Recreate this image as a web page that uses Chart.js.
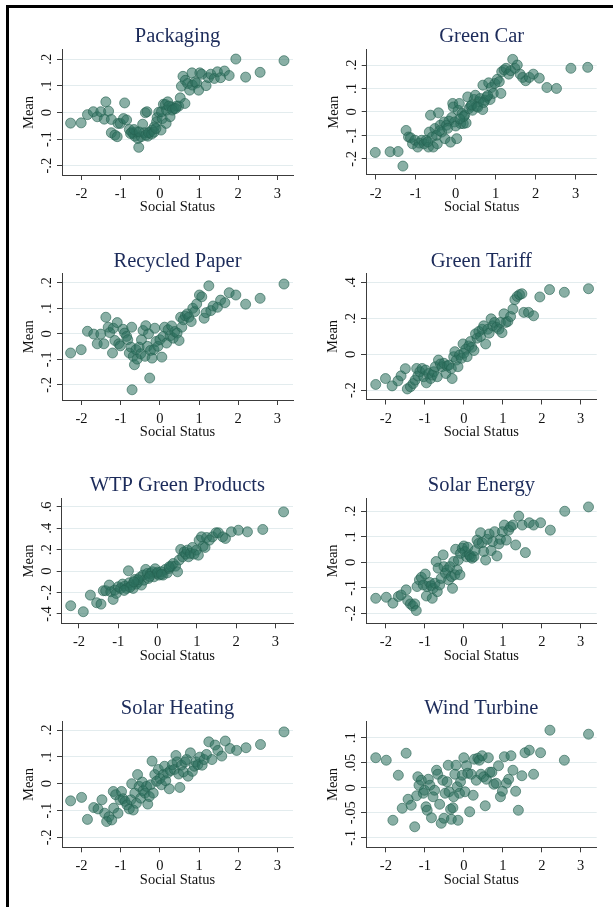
<!DOCTYPE html>
<html>
<head>
<meta charset="utf-8">
<title>Mean by Social Status</title>
<script src="https://cdn.jsdelivr.net/npm/chart.js@4.4.1/dist/chart.umd.min.js"></script>
<style>
  html, body { margin: 0; padding: 0; background: #fff; }
  body { width: 613px; height: 907px; position: relative; overflow: hidden; }
  .frame {
    position: absolute; left: 6px; top: 5px; width: 700px; height: 1000px;
    border-left: 3px solid #000; border-top: 3px solid #000;
  }
  canvas { position: absolute; }
</style>
</head>
<body>
<div class="frame"></div>
<script>
// values: [social status, mean]
const packaging = [[-2.28,-0.040],[-2.01,-0.039],[-1.85,-0.008],[-1.70,0.003],[-1.60,-0.016],[-1.51,0.003],[-1.38,0.040],[-1.42,-0.025],[-1.31,0.005],[-1.24,-0.026],[-1.07,-0.041],[-1.01,-0.041],[-0.93,-0.023],[-0.90,0.036],[-0.85,-0.028],[-1.24,-0.076],[-1.15,-0.085],[-1.09,-0.091],[-0.78,-0.064],[-0.72,-0.074],[-0.68,-0.079],[-0.64,-0.089],[-0.60,-0.073],[-0.56,-0.098],[-0.54,-0.131],[-0.48,-0.091],[-0.44,-0.044],[-0.37,-0.001],[-0.33,0.003],[-0.40,-0.076],[-0.31,-0.089],[-0.26,-0.075],[-0.20,-0.066],[-0.14,-0.054],[-0.085,-0.035],[-0.07,-0.019],[-0.03,0.001],[0.03,-0.066],[0.06,-0.023],[0.04,0.003],[0.09,0.031],[0.14,0.030],[0.16,-0.041],[0.20,0.040],[0.26,-0.016],[0.30,0.021],[0.36,0.015],[0.43,0.024],[0.48,0.024],[0.52,0.055],[0.55,0.099],[0.59,0.136],[0.64,0.034],[0.65,0.121],[0.71,0.109],[0.76,0.084],[0.82,0.149],[0.83,0.103],[0.90,0.115],[0.94,0.111],[0.99,0.084],[1.02,0.149],[1.07,0.144],[1.18,0.101],[1.24,0.131],[1.30,0.144],[1.39,0.128],[1.47,0.153],[1.55,0.131],[1.65,0.156],[1.77,0.139],[1.94,0.201],[2.19,0.133],[2.56,0.151],[3.17,0.195],[-0.75,-0.079],[-0.66,-0.064],[-0.53,-0.073],[-0.36,-0.085],[-0.29,-0.076],[-0.21,-0.081],[-0.15,-0.074],[-0.10,-0.060],[0.17,0.009],[0.23,0.024],[0.32,0.009],[0.40,0.015]];

const greenCar = [[-2.01,-0.173],[-1.64,-0.170],[-1.44,-0.169],[-1.32,-0.231],[-1.24,-0.079],[-1.18,-0.107],[-1.13,-0.110],[-1.08,-0.136],[-1.02,-0.121],[-0.95,-0.150],[-0.91,-0.133],[-0.85,-0.121],[-0.79,-0.136],[-0.74,-0.121],[-0.68,-0.150],[-0.63,-0.014],[-0.66,-0.086],[-0.59,-0.107],[-0.56,-0.150],[-0.52,-0.071],[-0.48,-0.100],[-0.43,-0.004],[-0.46,-0.136],[-0.39,-0.057],[-0.35,-0.086],[-0.29,-0.043],[-0.27,-0.114],[-0.23,-0.057],[-0.17,-0.039],[-0.13,-0.129],[-0.10,-0.024],[-0.075,0.036],[-0.06,0.021],[-0.03,-0.043],[0.025,-0.114],[0.06,0.007],[0.09,0.036],[0.125,-0.050],[0.16,-0.007],[0.19,-0.050],[0.225,-0.014],[0.26,-0.047],[0.30,0.064],[0.33,0.014],[0.375,0.024],[0.42,0.007],[0.46,0.053],[0.49,0.071],[0.525,0.024],[0.575,0.043],[0.61,0.057],[0.675,0.010],[0.68,0.114],[0.73,0.050],[0.775,0.064],[0.825,0.124],[0.86,0.053],[0.89,0.104],[0.94,0.079],[0.98,0.121],[1.04,0.139],[1.09,0.129],[1.13,0.079],[1.15,0.171],[1.21,0.179],[1.26,0.186],[1.325,0.161],[1.375,0.176],[1.425,0.224],[1.48,0.186],[1.54,0.200],[1.61,0.161],[1.675,0.147],[1.75,0.133],[1.84,0.147],[1.94,0.161],[2.09,0.144],[2.28,0.104],[2.52,0.100],[2.88,0.186],[3.30,0.190],[-0.70,-0.128],[-0.40,-0.080],[-0.20,-0.070],[0.00,-0.060],[0.20,-0.020],[0.40,0.030],[0.55,0.020],[0.70,0.040],[0.80,0.070],[0.10,-0.030]];

const recycledPaper = [[-2.28,-0.075],[-2.01,-0.062],[-1.85,0.010],[-1.69,-0.001],[-1.60,-0.039],[-1.51,-0.001],[-1.43,-0.039],[-1.38,0.065],[-1.32,0.026],[-1.28,0.005],[-1.19,0.022],[-1.21,-0.075],[-1.15,-0.026],[-1.09,0.044],[-1.05,-0.039],[-1.01,-0.047],[-0.94,0.018],[-0.90,0.003],[-0.85,-0.010],[-0.82,-0.023],[-0.78,-0.075],[-0.74,-0.052],[-0.72,0.026],[-0.71,-0.219],[-0.68,-0.088],[-0.65,-0.121],[-0.61,-0.062],[-0.58,-0.099],[-0.53,-0.052],[-0.49,-0.078],[-0.47,-0.023],[-0.43,0.013],[-0.38,-0.088],[-0.36,0.032],[-0.32,-0.049],[-0.29,0.000],[-0.26,-0.173],[-0.24,-0.065],[-0.20,-0.095],[-0.15,-0.062],[-0.13,0.022],[-0.10,-0.030],[-0.05,-0.049],[0.00,-0.023],[0.05,-0.091],[0.085,-0.010],[0.12,0.026],[0.17,-0.036],[0.21,0.016],[0.26,-0.008],[0.30,0.031],[0.34,-0.017],[0.38,0.009],[0.44,0.003],[0.49,-0.026],[0.53,0.065],[0.56,0.026],[0.60,0.055],[0.65,0.070],[0.70,0.078],[0.74,0.065],[0.80,0.048],[0.84,0.100],[0.89,0.087],[0.94,0.117],[1.01,0.152],[1.07,0.145],[1.13,0.061],[1.18,0.083],[1.25,0.188],[1.30,0.091],[1.36,0.109],[1.47,0.104],[1.55,0.132],[1.66,0.122],[1.77,0.161],[1.94,0.152],[2.19,0.116],[2.56,0.139],[3.17,0.195]];

const greenTariff = [[-2.26,-0.168],[-2.01,-0.135],[-1.84,-0.176],[-1.69,-0.148],[-1.61,-0.120],[-1.50,-0.080],[-1.45,-0.193],[-1.37,-0.181],[-1.30,-0.163],[-1.25,-0.144],[-1.21,-0.079],[-1.18,-0.121],[-1.13,-0.097],[-1.07,-0.079],[-1.03,-0.125],[-0.98,-0.088],[-0.96,-0.159],[-0.90,-0.107],[-0.85,-0.135],[-0.81,-0.116],[-0.77,-0.097],[-0.73,-0.069],[-0.68,-0.125],[-0.65,-0.032],[-0.60,-0.054],[-0.56,-0.069],[-0.51,-0.050],[-0.46,-0.107],[-0.43,-0.065],[-0.38,-0.060],[-0.32,-0.079],[-0.30,-0.135],[-0.26,-0.013],[-0.23,0.015],[-0.19,-0.032],[-0.15,-0.069],[-0.11,-0.004],[-0.06,-0.022],[-0.02,0.058],[0.00,0.006],[0.05,0.028],[0.085,-0.013],[0.13,0.047],[0.17,0.071],[0.205,0.039],[0.26,0.021],[0.30,0.114],[0.34,0.090],[0.385,0.127],[0.43,0.099],[0.47,0.140],[0.51,0.159],[0.56,0.058],[0.615,0.140],[0.65,0.118],[0.70,0.198],[0.74,0.159],[0.79,0.178],[0.84,0.151],[0.90,0.140],[0.94,0.178],[0.98,0.121],[1.03,0.226],[1.08,0.178],[1.13,0.183],[1.20,0.211],[1.26,0.252],[1.31,0.305],[1.37,0.323],[1.43,0.333],[1.49,0.338],[1.54,0.234],[1.66,0.234],[1.79,0.215],[1.95,0.320],[2.20,0.361],[2.58,0.346],[3.20,0.366]];

const wtpGreenProducts = [[-2.21,-0.323],[-1.89,-0.379],[-1.71,-0.224],[-1.55,-0.295],[-1.44,-0.308],[-1.38,-0.183],[-1.32,-0.183],[-1.23,-0.130],[-1.19,-0.192],[-1.13,-0.264],[-1.09,-0.177],[-1.05,-0.208],[-1.00,-0.146],[-0.94,-0.161],[-0.89,-0.121],[-0.83,-0.140],[-0.79,-0.161],[-0.74,0.003],[-0.72,-0.109],[-0.66,-0.130],[-0.62,-0.161],[-0.58,-0.078],[-0.54,-0.121],[-0.49,-0.099],[-0.45,-0.059],[-0.41,-0.130],[-0.37,-0.037],[-0.34,-0.084],[-0.30,0.016],[-0.26,-0.022],[-0.23,-0.068],[-0.18,-0.022],[-0.13,-0.006],[-0.09,-0.053],[-0.06,0.022],[-0.01,-0.022],[0.04,-0.037],[0.09,-0.006],[0.14,-0.037],[0.20,0.016],[0.25,-0.016],[0.30,0.025],[0.35,0.047],[0.40,0.071],[0.46,0.047],[0.51,-0.006],[0.55,0.103],[0.59,0.202],[0.64,0.134],[0.68,0.180],[0.72,0.159],[0.76,0.196],[0.79,0.134],[0.84,0.165],[0.89,0.221],[0.93,0.159],[0.99,0.196],[1.04,0.149],[1.06,0.289],[1.12,0.320],[1.16,0.233],[1.21,0.221],[1.25,0.314],[1.32,0.289],[1.40,0.320],[1.49,0.358],[1.55,0.358],[1.66,0.320],[1.73,0.305],[1.88,0.367],[2.06,0.382],[2.29,0.367],[2.68,0.389],[3.21,0.553],[-0.70,-0.150],[-0.50,-0.080],[-0.20,-0.050],[0.00,-0.010],[0.10,-0.030],[0.30,0.040],[-0.85,-0.180],[-0.60,-0.100]];

const solarEnergy = [[-2.26,-0.141],[-1.99,-0.137],[-1.82,-0.160],[-1.68,-0.134],[-1.61,-0.128],[-1.48,-0.108],[-1.44,-0.150],[-1.37,-0.163],[-1.31,-0.171],[-1.26,-0.163],[-1.22,-0.189],[-1.20,-0.095],[-1.14,-0.069],[-1.09,-0.059],[-1.04,-0.089],[-0.99,-0.046],[-0.96,-0.132],[-0.94,-0.095],[-0.88,-0.079],[-0.84,-0.092],[-0.81,-0.141],[-0.79,-0.102],[-0.74,-0.082],[-0.71,0.003],[-0.68,-0.115],[-0.66,-0.023],[-0.62,-0.089],[-0.58,-0.063],[-0.53,0.029],[-0.51,-0.017],[-0.47,-0.043],[-0.43,-0.030],[-0.39,-0.069],[-0.36,-0.017],[-0.32,-0.056],[-0.29,-0.102],[-0.26,0.003],[-0.23,-0.049],[-0.21,0.051],[-0.17,-0.030],[-0.14,0.009],[-0.10,-0.049],[-0.085,0.035],[-0.04,0.055],[0.00,0.064],[0.03,0.042],[0.07,0.022],[0.10,0.059],[0.14,0.029],[0.17,0.022],[0.21,0.016],[0.26,0.022],[0.29,0.046],[0.34,0.087],[0.38,0.074],[0.43,0.116],[0.47,0.077],[0.51,0.042],[0.56,0.009],[0.60,0.090],[0.65,0.111],[0.70,0.046],[0.74,0.081],[0.79,0.120],[0.85,0.025],[0.90,0.072],[0.94,0.090],[0.99,0.120],[1.04,0.146],[1.09,0.087],[1.15,0.126],[1.20,0.139],[1.26,0.146],[1.33,0.068],[1.41,0.181],[1.50,0.146],[1.58,0.038],[1.68,0.155],[1.79,0.146],[1.97,0.155],[2.22,0.126],[2.59,0.200],[3.20,0.217]];

const solarHeating = [[-2.28,-0.064],[-2.00,-0.051],[-1.85,-0.133],[-1.69,-0.089],[-1.58,-0.094],[-1.48,-0.060],[-1.41,-0.110],[-1.36,-0.141],[-1.30,-0.123],[-1.23,-0.135],[-1.19,-0.029],[-1.18,-0.091],[-1.13,-0.041],[-1.07,-0.110],[-1.02,-0.060],[-0.98,-0.029],[-0.94,-0.056],[-0.89,-0.066],[-0.84,-0.079],[-0.78,-0.094],[-0.74,-0.060],[-0.72,0.000],[-0.68,-0.098],[-0.64,-0.035],[-0.60,-0.073],[-0.57,0.034],[-0.53,-0.010],[-0.49,-0.054],[-0.45,0.006],[-0.43,-0.026],[-0.38,-0.035],[-0.34,-0.010],[-0.31,-0.076],[-0.27,-0.048],[-0.24,-0.004],[-0.20,0.084],[-0.17,-0.035],[-0.13,0.034],[-0.085,0.009],[-0.04,0.053],[0.00,0.019],[0.04,-0.004],[0.085,0.034],[0.12,0.065],[0.15,0.011],[0.20,0.040],[0.24,-0.019],[0.27,0.049],[0.32,0.071],[0.37,0.053],[0.41,0.105],[0.44,0.081],[0.48,0.036],[0.51,-0.014],[0.55,0.069],[0.60,0.044],[0.64,0.081],[0.68,0.090],[0.72,0.028],[0.78,0.115],[0.83,0.046],[0.88,0.065],[0.92,0.081],[0.97,0.071],[1.02,0.099],[1.08,0.069],[1.13,0.090],[1.19,0.109],[1.25,0.156],[1.33,0.090],[1.41,0.144],[1.48,0.124],[1.58,0.103],[1.67,0.159],[1.79,0.131],[1.96,0.124],[2.20,0.134],[2.57,0.146],[3.17,0.193]];

const windTurbine = [[-2.26,0.060],[-1.99,0.055],[-1.82,-0.065],[-1.68,0.025],[-1.58,-0.041],[-1.48,0.069],[-1.43,-0.023],[-1.35,-0.035],[-1.26,-0.078],[-1.21,-0.016],[-1.18,0.022],[-1.15,0.005],[-1.09,0.015],[-1.04,-0.011],[-1.01,-0.005],[-0.97,-0.038],[-0.94,-0.045],[-0.91,0.017],[-0.87,0.005],[-0.83,-0.060],[-0.79,-0.018],[-0.75,-0.005],[-0.70,0.035],[-0.67,0.027],[-0.62,-0.033],[-0.58,-0.071],[-0.54,0.015],[-0.51,-0.061],[-0.48,-0.011],[-0.43,0.012],[-0.40,0.045],[-0.38,-0.008],[-0.34,-0.043],[-0.32,-0.063],[-0.28,-0.040],[-0.26,-0.018],[-0.23,0.027],[-0.20,0.045],[-0.17,0.002],[-0.15,-0.065],[-0.11,-0.011],[-0.085,0.012],[-0.04,0.025],[0.00,0.060],[0.03,-0.008],[0.07,0.044],[0.10,0.029],[0.15,-0.048],[0.19,0.027],[0.24,-0.015],[0.27,0.057],[0.32,0.015],[0.36,0.059],[0.40,0.055],[0.44,0.027],[0.47,0.064],[0.51,0.022],[0.55,-0.036],[0.58,0.017],[0.63,0.060],[0.67,0.031],[0.72,0.031],[0.77,0.007],[0.83,0.009],[0.89,0.044],[0.94,-0.018],[0.99,-0.007],[1.04,0.062],[1.09,0.009],[1.15,0.017],[1.21,0.064],[1.26,0.035],[1.33,-0.007],[1.40,-0.045],[1.49,0.024],[1.57,0.070],[1.68,0.075],[1.79,0.027],[1.97,0.070],[2.21,0.115],[2.58,0.055],[3.20,0.107]];

// tick labels
const xTicks = [-2, -1, 0, 1, 2, 3];
const yTicksTenth = [-0.2, -0.1, 0, 0.1, 0.2];
const yTicksTariff = [-0.2, 0, 0.2, 0.4];
const yTicksWtp = [-0.4, -0.2, 0, 0.2, 0.4, 0.6];
const yTicksWind = [-0.1, -0.05, 0, 0.05, 0.1];

// panel placement on the page (plot box edges in px) and axis ranges
const panels = [
  { title: "Packaging", points: packaging, yTicks: yTicksTenth, xMin: -2.50, xMax: 3.40, yMin: -0.235, yMax: 0.235, left: 62, right: 293, top: 50, bottom: 175, titleY: 37 },
  { title: "Green Car", points: greenCar, yTicks: yTicksTenth, xMin: -2.225, xMax: 3.525, yMin: -0.267, yMax: 0.264, left: 366.7, right: 596.7, top: 50, bottom: 174.5, titleY: 37 },
  { title: "Recycled Paper", points: recycledPaper, yTicks: yTicksTenth, xMin: -2.50, xMax: 3.40, yMin: -0.259, yMax: 0.237, left: 62, right: 293, top: 273.3, bottom: 400, titleY: 262 },
  { title: "Green Tariff", points: greenTariff, yTicks: yTicksTariff, xMin: -2.51, xMax: 3.41, yMin: -0.252, yMax: 0.452, left: 366, right: 596.7, top: 273.3, bottom: 399.5, titleY: 262 },
  { title: "WTP Green Products", points: wtpGreenProducts, yTicks: yTicksWtp, xMin: -2.44, xMax: 3.45, yMin: -0.487, yMax: 0.678, left: 61.7, right: 293, top: 498.5, bottom: 623.3, titleY: 486 },
  { title: "Solar Energy", points: solarEnergy, yTicks: yTicksTenth, xMin: -2.51, xMax: 3.41, yMin: -0.239, yMax: 0.25, left: 366, right: 596.7, top: 498.5, bottom: 623.3, titleY: 486 },
  { title: "Solar Heating", points: solarHeating, yTicks: yTicksTenth, xMin: -2.50, xMax: 3.40, yMin: -0.237, yMax: 0.231, left: 62, right: 293, top: 721.7, bottom: 847.3, titleY: 709 },
  { title: "Wind Turbine", points: windTurbine, yTicks: yTicksWind, xMin: -2.51, xMax: 3.41, yMin: -0.119, yMax: 0.132, left: 366, right: 596.7, top: 721.7, bottom: 847.3, titleY: 709 }
];

const axisColor = "#3c3c3c";
const gridColor = "#e3ecee";
const labelSize = 14.5;

Chart.defaults.font.family = '"Liberation Serif", "Times New Roman", serif';
Chart.defaults.color = "#111";

const measureCtx = document.createElement("canvas").getContext("2d");
function textWidth(text) {
  measureCtx.font = labelSize + 'px "Liberation Serif"';
  return measureCtx.measureText(text).width;
}

// Stata style: ".2", "-.05", "0"
function formatMean(value) {
  if (Math.abs(value) < 1e-9) {
    return "0";
  }
  return String(+value.toFixed(3)).replace("0.", ".");
}

panels.forEach(function (p) {
  const canvasLeft = Math.floor(p.left) - 46;
  const canvasRight = Math.ceil(p.right) + 8;
  const canvasTop = Math.round(p.titleY - 14);
  const canvasBottom = Math.ceil(p.bottom) + 46;

  const canvas = document.createElement("canvas");
  canvas.width = canvasRight - canvasLeft;
  canvas.height = canvasBottom - canvasTop;
  canvas.style.left = canvasLeft + "px";
  canvas.style.top = canvasTop + "px";
  canvas.style.width = canvas.width + "px";
  canvas.style.height = canvas.height + "px";
  document.body.appendChild(canvas);

  const widest = Math.max.apply(null, p.yTicks.map(function (v) { return textWidth(formatMean(v)); }));

  new Chart(canvas.getContext("2d"), {
    type: "scatter",
    data: {
      datasets: [
        {
          label: p.title,
          data: p.points.map(function (pt) { return { x: pt[0], y: pt[1] }; }),
          backgroundColor: "rgba(45, 112, 95, 0.56)",
          borderColor: "rgba(36, 96, 80, 0.6)",
          borderWidth: 1,
          pointRadius: 5,
          pointHoverRadius: 5
        }
      ]
    },
    options: {
      responsive: false,
      animation: false,
      events: [],
      layout: {
        autoPadding: false,
        padding: { left: 0, top: 0, bottom: 0, right: canvasRight - p.right }
      },
      plugins: {
        legend: { display: false },
        tooltip: { enabled: false },
        title: {
          display: true,
          text: p.title,
          fullSize: false,
          color: "#1c2b5a",
          font: { size: 20.5, weight: "normal", lineHeight: 1.2 },
          padding: { top: p.titleY - 12.3 - canvasTop, bottom: p.top - p.titleY - 12.3 }
        }
      },
      scales: {
        x: {
          type: "linear",
          min: p.xMin,
          max: p.xMax,
          afterBuildTicks: function (scale) {
            scale.ticks = xTicks.map(function (v) { return { value: v }; });
          },
          afterFit: function (scale) {
            scale.height = canvasBottom - p.bottom;
          },
          ticks: {
            autoSkip: false,
            maxRotation: 0,
            minRotation: 0,
            padding: 5.5,
            color: "#111",
            font: { size: labelSize },
            callback: function (value) { return String(value); }
          },
          grid: {
            display: true,
            drawOnChartArea: false,
            drawTicks: true,
            tickLength: 5,
            tickColor: axisColor
          },
          border: { display: true, color: axisColor, width: 1 },
          title: {
            display: true,
            text: "Social Status",
            color: "#111",
            font: { size: labelSize },
            padding: { top: 0, bottom: canvasBottom - p.bottom - 32.5 - 8.7 }
          }
        },
        y: {
          type: "linear",
          min: p.yMin,
          max: p.yMax,
          afterBuildTicks: function (scale) {
            scale.ticks = p.yTicks.map(function (v) { return { value: v }; });
          },
          afterFit: function (scale) {
            scale.width = p.left - canvasLeft;
          },
          ticks: {
            autoSkip: false,
            minRotation: 90,
            maxRotation: 90,
            crossAlign: "center",
            padding: 10 - widest / 2,
            color: "#111",
            font: { size: labelSize },
            callback: function (value) { return formatMean(value); }
          },
          grid: {
            color: gridColor,
            lineWidth: 1,
            drawTicks: true,
            tickLength: 5,
            tickColor: axisColor
          },
          border: { display: true, color: axisColor, width: 1 },
          title: {
            display: true,
            text: "Mean",
            color: "#111",
            font: { size: labelSize },
            padding: { top: p.left - 33 - canvasLeft - 8.7, bottom: 0 }
          }
        }
      }
    }
  });
});
</script>
</body>
</html>
